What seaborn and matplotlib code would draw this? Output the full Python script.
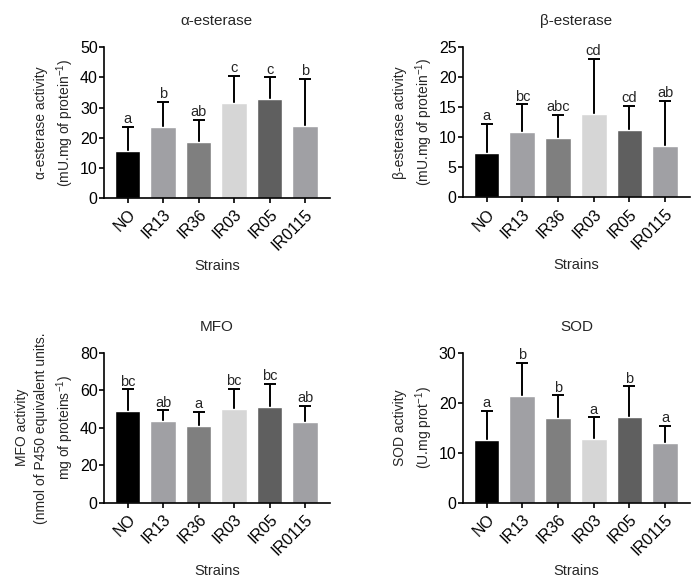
import numpy as np
import pandas as pd
import matplotlib
matplotlib.use("Agg")
import matplotlib.pyplot as plt
import seaborn as sns

strains = ["NO", "IR13", "IR36", "IR03", "IR05", "IR0115"]
bar_colors = ["#000000", "#a0a0a4", "#7f7f7f", "#d6d6d6", "#5f5f5f", "#a0a0a4"]

alpha_mean = [15.5, 23.5, 18.5, 31.6, 32.8, 23.9]
alpha_sd = [8.0, 8.4, 7.5, 8.9, 7.2, 15.6]
alpha_letters = ["a", "b", "ab", "c", "c", "b"]

beta_mean = [7.4, 10.8, 9.8, 13.8, 11.2, 8.5]
beta_sd = [4.8, 4.7, 3.9, 9.2, 4.0, 7.6]
beta_letters = ["a", "bc", "abc", "cd", "cd", "ab"]

mfo_mean = [49.2, 43.6, 41.0, 50.1, 51.0, 43.3]
mfo_sd = [11.3, 5.7, 7.5, 10.7, 12.6, 8.4]
mfo_letters = ["bc", "ab", "a", "bc", "bc", "ab"]

sod_mean = [12.6, 21.3, 16.9, 12.8, 17.1, 11.9]
sod_sd = [5.8, 6.7, 4.6, 4.3, 6.2, 3.5]
sod_letters = ["a", "b", "b", "a", "b", "a"]

sns.set_style("ticks")
plt.rcParams["font.family"] = ["Liberation Sans", "DejaVu Sans"]
plt.rcParams["mathtext.default"] = "regular"


def panel(ax, means, sds, letters, title, ylabel, ymax, ystep):
    df = pd.DataFrame({"strain": strains, "value": means})
    sns.barplot(data=df, x="strain", y="value", hue="strain", palette=bar_colors,
                legend=False, width=0.72, errorbar=None, ax=ax, zorder=2)
    x = np.arange(len(strains))
    eb = ax.errorbar(x, means, yerr=[np.zeros(len(sds)), sds], fmt="none",
                     ecolor="black", elinewidth=1.4, capsize=4.3, capthick=1.4, zorder=1)
    # one-sided error bars: hide the lower cap
    eb[1][0].set_visible(False)
    for xi, m, s, lab in zip(x, means, sds, letters):
        ax.annotate(lab, (xi, m + s), xytext=(0, 0.5), textcoords="offset points",
                    ha="center", va="bottom", fontsize=10.5)
    ax.set_xlim(-0.67, 5.7)
    ax.set_ylim(0, ymax)
    ax.set_yticks(np.arange(0, ymax + ystep / 2, ystep))
    ax.set_title(title, fontsize=11, pad=16)
    ax.set_ylabel(ylabel, fontsize=10, linespacing=1.4, labelpad=3)
    ax.set_xlabel("Strains", fontsize=10.5, labelpad=4)
    ax.set_xticks(x)
    ax.set_xticklabels(strains, rotation=45, ha="right", rotation_mode="anchor")
    ax.tick_params(axis="both", labelsize=11.5, width=1.2, length=3.5, color="black",
                   labelcolor="black", pad=1)
    ax.tick_params(axis="x", pad=3)
    for sp in ["left", "bottom"]:
        ax.spines[sp].set_linewidth(1.2)
        ax.spines[sp].set_color("black")
    sns.despine(ax=ax)


fig = plt.figure(figsize=(6.95, 5.88), dpi=100)
ax1 = fig.add_axes([0.1496, 0.6633, 0.325, 0.2563])
ax2 = fig.add_axes([0.6658, 0.6645, 0.327, 0.2553])
ax3 = fig.add_axes([0.1496, 0.145, 0.325, 0.255])
ax4 = fig.add_axes([0.6658, 0.145, 0.327, 0.255])

panel(ax1, alpha_mean, alpha_sd, alpha_letters, "α-esterase",
      "α-esterase activity\n(mU.mg of protein$^{-1}$)", 50, 10)
panel(ax2, beta_mean, beta_sd, beta_letters, "β-esterase",
      "β-esterase activity\n(mU.mg of protein$^{-1}$)", 25, 5)
panel(ax3, mfo_mean, mfo_sd, mfo_letters, "MFO",
      "MFO activity\n(nmol of P450 equivalent units.\nmg of proteins$^{-1}$)", 80, 20)
panel(ax4, sod_mean, sod_sd, sod_letters, "SOD",
      "SOD activity\n(U.mg prot$^{-1}$)", 30, 10)

fig.savefig("out.png", dpi=100, facecolor="white")
